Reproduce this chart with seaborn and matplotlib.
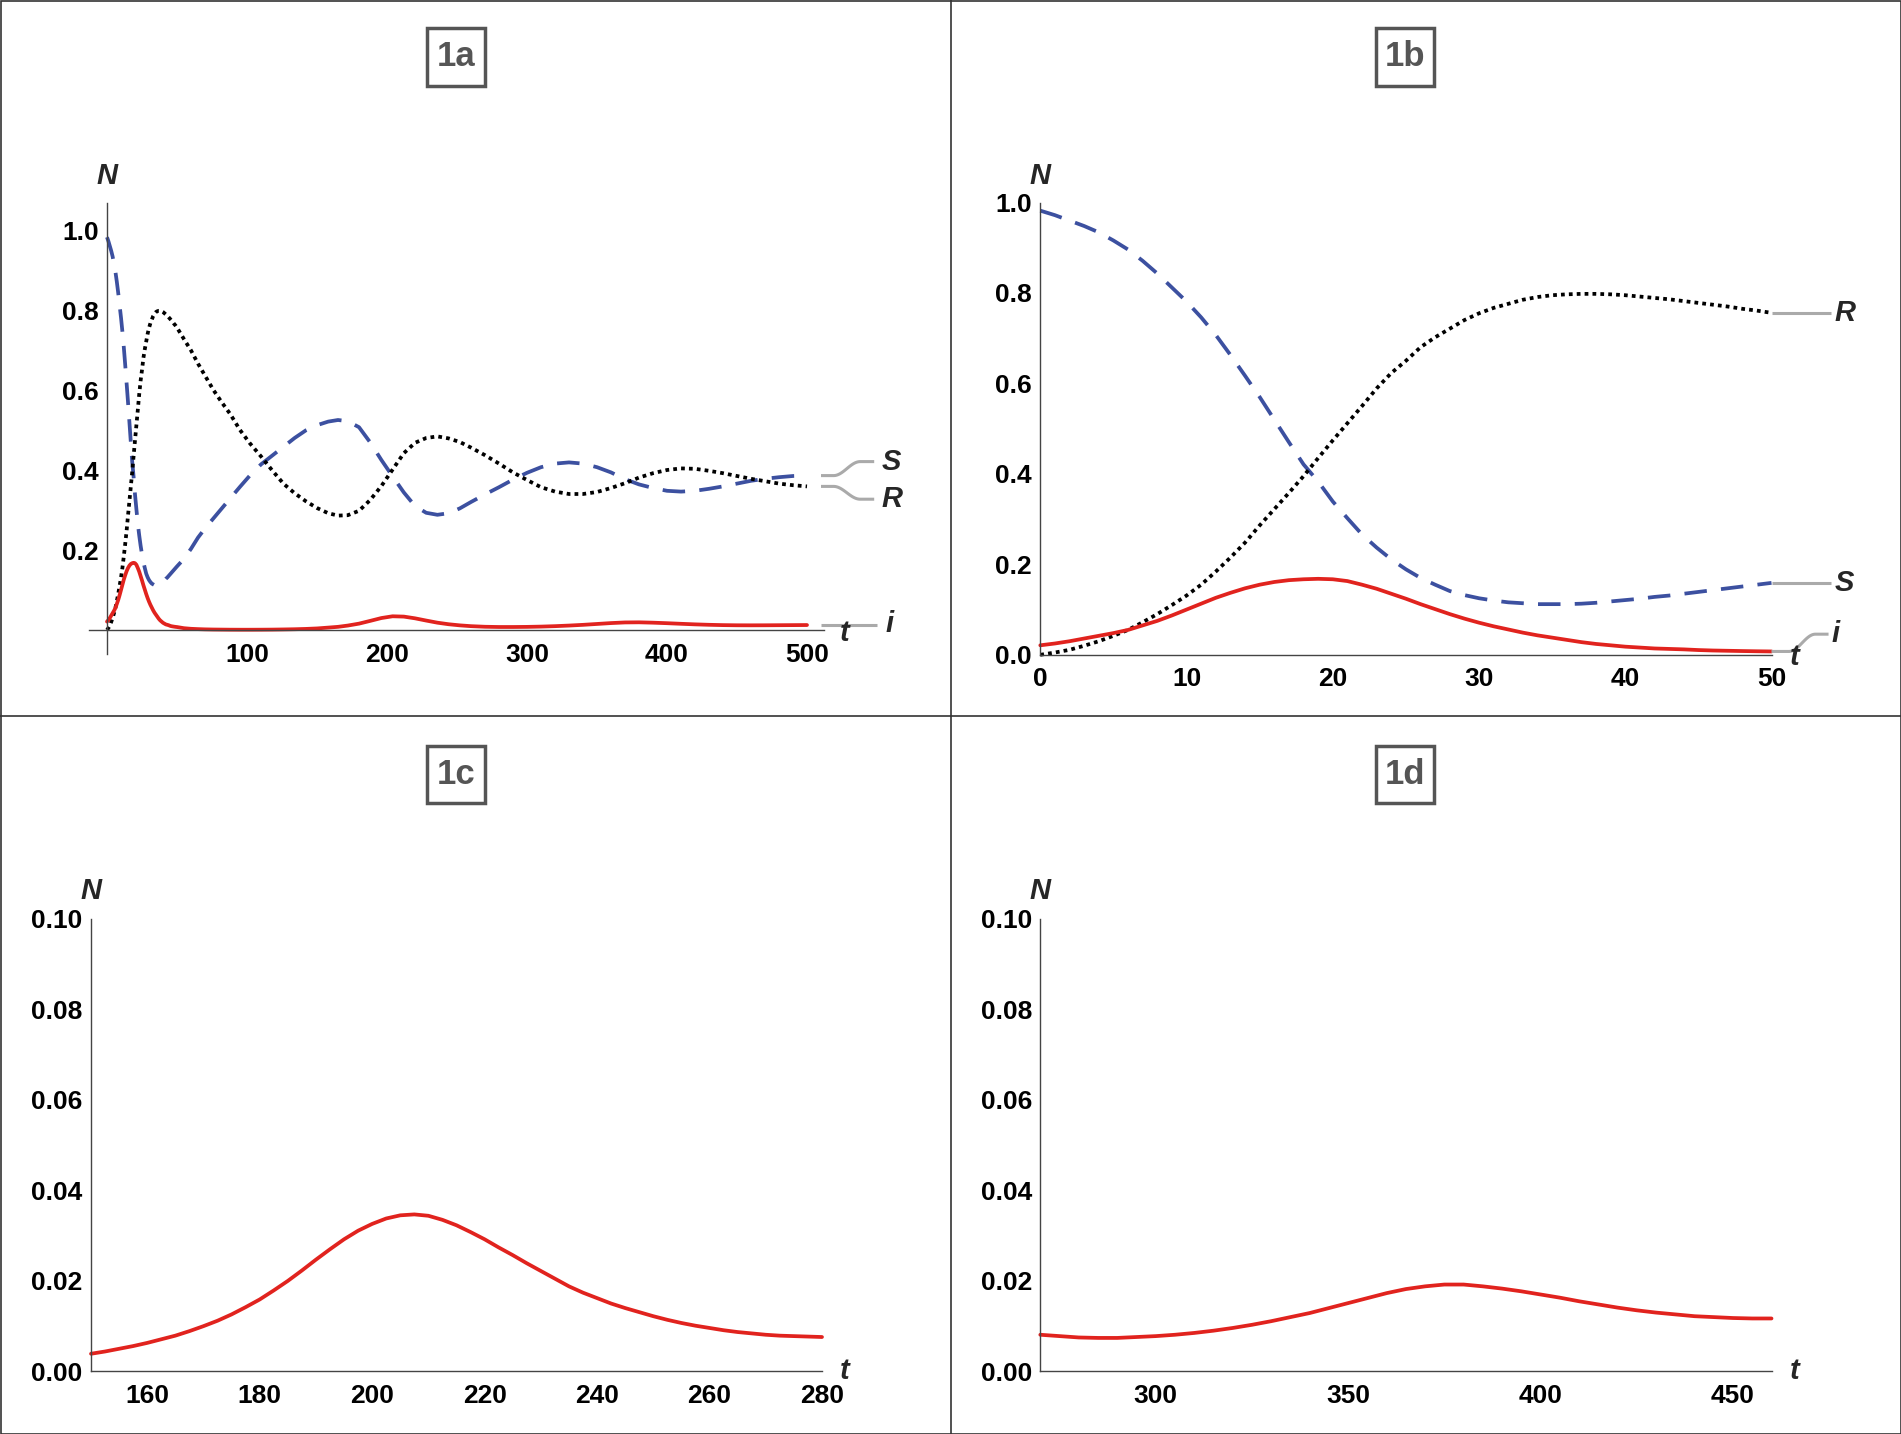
import numpy as np
import seaborn as sns
import matplotlib.pyplot as plt
from matplotlib.patches import Rectangle
from matplotlib.lines import Line2D
from matplotlib.ticker import FixedLocator, MultipleLocator, FormatStrFormatter

# ---- values ----
# panel 1b (t = 0..50), also the first part of panel 1a
t_early = list(range(0, 51))
s_early = [0.982, 0.972, 0.960, 0.948, 0.934, 0.916, 0.896, 0.871, 0.843, 0.812,
           0.781, 0.746, 0.707, 0.663, 0.617, 0.570, 0.520, 0.470, 0.421, 0.383,
           0.339, 0.302, 0.266, 0.237, 0.211, 0.189, 0.170, 0.155, 0.141, 0.132,
           0.125, 0.120, 0.116, 0.114, 0.112, 0.112, 0.112, 0.113, 0.115, 0.118,
           0.121, 0.124, 0.128, 0.131, 0.135, 0.139, 0.143, 0.147, 0.151, 0.155,
           0.159]
i_early = [0.021, 0.025, 0.030, 0.036, 0.042, 0.048, 0.055, 0.065, 0.075, 0.087,
           0.100, 0.113, 0.126, 0.137, 0.147, 0.155, 0.161, 0.165, 0.167, 0.168,
           0.167, 0.163, 0.155, 0.146, 0.135, 0.124, 0.112, 0.101, 0.090, 0.080,
           0.071, 0.063, 0.056, 0.049, 0.043, 0.038, 0.033, 0.028, 0.024, 0.021,
           0.018, 0.016, 0.014, 0.013, 0.012, 0.0105, 0.0095, 0.0089, 0.0083, 0.0078,
           0.0074]
r_early = [0.000, 0.005, 0.011, 0.020, 0.030, 0.042, 0.055, 0.072, 0.090, 0.110,
           0.131, 0.155, 0.184, 0.215, 0.248, 0.286, 0.322, 0.358, 0.395, 0.435,
           0.474, 0.512, 0.550, 0.589, 0.623, 0.650, 0.680, 0.702, 0.721, 0.740,
           0.755, 0.767, 0.776, 0.785, 0.791, 0.795, 0.797, 0.798, 0.798, 0.797,
           0.795, 0.792, 0.789, 0.786, 0.782, 0.778, 0.774, 0.770, 0.765, 0.761,
           0.756]

# panel 1a, t > 50
t_late = [55, 60, 65, 70, 76, 82, 88, 95, 102, 110, 118, 126, 134, 142, 150, 158,
          165, 172, 180, 188, 196, 204, 212, 220, 228, 236, 244, 252, 260, 270, 280,
          290, 300, 310, 320, 330, 340, 350, 360, 370, 380, 390, 400, 410, 420, 430,
          440, 450, 460, 470, 480, 490, 500]
s_late = [0.178, 0.203, 0.231, 0.254, 0.279, 0.304, 0.329, 0.358, 0.386, 0.414,
          0.436, 0.458, 0.480, 0.499, 0.512, 0.521, 0.525, 0.522, 0.507, 0.469,
          0.425, 0.384, 0.344, 0.310, 0.293, 0.288, 0.292, 0.304, 0.320, 0.339,
          0.357, 0.376, 0.393, 0.407, 0.416, 0.419, 0.416, 0.407, 0.394, 0.377,
          0.364, 0.355, 0.348, 0.346, 0.348, 0.353, 0.359, 0.366, 0.373, 0.378,
          0.382, 0.385, 0.386]
i_late = [0.0045, 0.0030, 0.0022, 0.0016, 0.0012, 0.0010, 0.0008, 0.0007, 0.0007,
          0.0008, 0.0010, 0.0014, 0.0019, 0.0027, 0.0039, 0.0060, 0.0079, 0.0111,
          0.0159, 0.0228, 0.0299, 0.0343, 0.0335, 0.0292, 0.0236, 0.0183, 0.0144,
          0.0116, 0.0096, 0.0081, 0.0075, 0.0075, 0.0078, 0.0085, 0.0096, 0.0111,
          0.0129, 0.0151, 0.0173, 0.0189, 0.0192, 0.0183, 0.0170, 0.0155, 0.0141,
          0.0130, 0.0122, 0.0118, 0.0117, 0.0118, 0.0120, 0.0122, 0.0124]
r_late = [0.727, 0.699, 0.666, 0.636, 0.600, 0.569, 0.540, 0.500, 0.467, 0.434,
          0.399, 0.366, 0.342, 0.322, 0.305, 0.292, 0.286, 0.287, 0.298, 0.325,
          0.360, 0.401, 0.442, 0.468, 0.480, 0.484, 0.479, 0.470, 0.456, 0.437,
          0.416, 0.394, 0.375, 0.357, 0.346, 0.340, 0.340, 0.345, 0.355, 0.367,
          0.381, 0.392, 0.400, 0.404, 0.403, 0.398, 0.392, 0.385, 0.378, 0.372,
          0.366, 0.362, 0.359]

# panel 1c: second wave of I
t_c = [150, 152.5, 155, 157.5, 160, 162.5, 165, 167.5, 170, 172.5, 175, 177.5,
       180, 182.5, 185, 187.5, 190, 192.5, 195, 197.5, 200, 202.5, 205, 207.5,
       210, 212.5, 215, 217.5, 220, 222.5, 225, 227.5, 230, 232.5, 235, 237.5,
       240, 242.5, 245, 247.5, 250, 252.5, 255, 257.5, 260, 262.5, 265, 267.5,
       270, 272.5, 275, 277.5, 280]
i_c = [0.0039, 0.0044, 0.0050, 0.0056, 0.0063, 0.0071, 0.0079, 0.0089, 0.0100,
       0.0112, 0.0126, 0.0142, 0.0159, 0.0179, 0.0200, 0.0223, 0.0247, 0.0270,
       0.0292, 0.0311, 0.0326, 0.0338, 0.0345, 0.0347, 0.0344, 0.0335, 0.0323,
       0.0308, 0.0292, 0.0274, 0.0257, 0.0239, 0.0222, 0.0205, 0.0188, 0.0174,
       0.0162, 0.0150, 0.0140, 0.0131, 0.0122, 0.0114, 0.0107, 0.0101, 0.0096,
       0.0091, 0.0087, 0.0084, 0.0081, 0.0079, 0.0078, 0.0077, 0.0076]

# panel 1d: third wave of I
t_d = [270, 275, 280, 285, 290, 295, 300, 305, 310, 315, 320, 325, 330, 335, 340,
       345, 350, 355, 360, 365, 370, 375, 380, 385, 390, 395, 400, 405, 410, 415,
       420, 425, 430, 435, 440, 445, 450, 455, 460]
i_d = [0.0081, 0.0078, 0.0075, 0.0074, 0.0074, 0.0076, 0.0078, 0.0081, 0.0085,
       0.0090, 0.0096, 0.0103, 0.0111, 0.0120, 0.0129, 0.0140, 0.0151, 0.0162,
       0.0173, 0.0182, 0.0188, 0.0192, 0.0192, 0.0188, 0.0183, 0.0177, 0.0170,
       0.0163, 0.0155, 0.0148, 0.0141, 0.0135, 0.0130, 0.0126, 0.0122, 0.0120,
       0.0118, 0.0117, 0.0117]

t_a = t_early + t_late
s_a = s_early + s_late
i_a = i_early + i_late
r_a = r_early + r_late

BLUE = '#3c50a0'
RED = '#e1231e'
GREY = '#aaaaaa'
LW = 2.7

sns.set_style('white')
plt.rcParams['font.family'] = ['Liberation Sans', 'DejaVu Sans']
plt.rcParams['font.weight'] = 'bold'

W, H = 1901, 1434
fig = plt.figure(figsize=(W / 100, H / 100), dpi=100)


def px_axes(x0, x1, y_top, y_bot):
    return fig.add_axes([x0 / W, 1 - y_bot / H, (x1 - x0) / W, (y_bot - y_top) / H])


def style_axes(ax, origin=False):
    ax.spines['top'].set_visible(False)
    ax.spines['right'].set_visible(False)
    for side in ['left', 'bottom']:
        ax.spines[side].set_color('#444444')
        ax.spines[side].set_linewidth(1.0)
    if origin:
        ax.spines['left'].set_position(('data', 0))
        ax.spines['bottom'].set_position(('data', 0))
    ax.tick_params(which='both', direction='in', color='#444444', width=1.0,
                   labelsize=19, labelcolor='black')
    ax.tick_params(which='major', length=8)
    ax.tick_params(which='minor', length=4.5)
    ax.tick_params(axis='y', which='major', pad=6)
    ax.tick_params(axis='x', which='major', pad=9)
    ax.set_xlabel('')
    ax.set_ylabel('')
    ax.patch.set_alpha(0)


def draw_s(ax, t, v):
    sns.lineplot(x=t, y=v, ax=ax, color=BLUE, lw=LW, linestyle=(0, (6, 3.8)),
                 estimator=None, sort=False, clip_on=False)


def draw_r(ax, t, v):
    sns.lineplot(x=t, y=v, ax=ax, color='black', lw=LW, linestyle=(0, (1.0, 1.1)),
                 estimator=None, sort=False, clip_on=False, dash_capstyle='butt')


def draw_i(ax, t, v):
    sns.lineplot(x=t, y=v, ax=ax, color=RED, lw=LW, estimator=None, sort=False,
                 clip_on=False)


def callout(ax, x0, x1, x2, x3, y0, y1):
    # flat, eased bend, flat
    u = np.linspace(0, 1, 25)
    xs = np.concatenate([[x0], x1 + (x2 - x1) * u, [x3]])
    ys = np.concatenate([[y0], y0 + (y1 - y0) * (1 - np.cos(np.pi * u)) / 2, [y1]])
    ax.plot(xs, ys, color=GREY, lw=2.2, clip_on=False, solid_capstyle='butt')


def letter(ax, x, y, s, ha='left'):
    ax.text(x, y, s, ha=ha, va='center', fontsize=21, fontweight='bold',
            fontstyle='italic', clip_on=False)


# ---- 1a ----
ax = px_axes(88.8, 823.8, 203.2, 654.0)
draw_s(ax, t_a, s_a)
draw_r(ax, t_a, r_a)
draw_i(ax, t_a, i_a)
ax.set_xlim(-13, 512)
ax.set_ylim(-0.06, 1.067)
style_axes(ax, origin=True)
ax.xaxis.set_major_locator(FixedLocator([100, 200, 300, 400, 500]))
ax.xaxis.set_minor_locator(FixedLocator(np.arange(20, 501, 20)))
ax.yaxis.set_major_locator(FixedLocator([0.2, 0.4, 0.6, 0.8, 1.0]))
ax.yaxis.set_minor_locator(FixedLocator(np.arange(0.05, 1.06, 0.05)))
ax.xaxis.set_major_formatter(FormatStrFormatter('%d'))
ax.yaxis.set_major_formatter(FormatStrFormatter('%.1f'))
callout(ax, 510, 519, 538, 548, s_a[-1], 0.421)
callout(ax, 510, 519, 538, 548, r_a[-1], 0.327)
callout(ax, 510, 530, 531, 550, i_a[-1], i_a[-1])
letter(ax, 553, 0.421, 'S')
letter(ax, 553, 0.327, 'R')
letter(ax, 556, 0.014, 'i')
letter(ax, 527, -0.008, 't', ha='center')
letter(ax, 0, 1.136, 'N', ha='center')

# ---- 1b ----
ax = px_axes(1040.3, 1771.5, 202.5, 654.8)
draw_s(ax, t_early, s_early)
draw_r(ax, t_early, r_early)
draw_i(ax, t_early, i_early)
ax.set_xlim(0, 50)
ax.set_ylim(0, 1)
style_axes(ax)
ax.xaxis.set_major_locator(MultipleLocator(10))
ax.xaxis.set_minor_locator(MultipleLocator(2))
ax.yaxis.set_major_locator(MultipleLocator(0.2))
ax.yaxis.set_minor_locator(MultipleLocator(0.05))
ax.xaxis.set_major_formatter(FormatStrFormatter('%d'))
ax.yaxis.set_major_formatter(FormatStrFormatter('%.1f'))
callout(ax, 50, 51, 52, 54.06, r_early[-1], r_early[-1])
callout(ax, 50, 51, 52, 54.06, s_early[-1], s_early[-1])
callout(ax, 50, 51.2, 53.0, 53.9, i_early[-1], 0.0456)
letter(ax, 54.3, r_early[-1], 'R')
letter(ax, 54.3, s_early[-1], 'S')
letter(ax, 54.1, 0.047, 'i')
letter(ax, 51.6, -0.004, 't', ha='center')
letter(ax, 0, 1.059, 'N', ha='center')

# ---- 1c ----
ax = px_axes(91.0, 822.0, 919.0, 1371.4)
draw_i(ax, t_c, i_c)
ax.set_xlim(150, 280)
ax.set_ylim(0, 0.1)
style_axes(ax)
ax.xaxis.set_major_locator(MultipleLocator(20))
ax.xaxis.set_minor_locator(MultipleLocator(5))
ax.yaxis.set_major_locator(MultipleLocator(0.02))
ax.yaxis.set_minor_locator(MultipleLocator(0.005))
ax.xaxis.set_major_formatter(FormatStrFormatter('%d'))
ax.yaxis.set_major_formatter(FormatStrFormatter('%.2f'))
letter(ax, 284, 0.0, 't', ha='center')
letter(ax, 150, 0.1062, 'N', ha='center')

# ---- 1d ----
ax = px_axes(1040.3, 1771.5, 919.0, 1371.4)
draw_i(ax, t_d, i_d)
ax.set_xlim(270, 460)
ax.set_ylim(0, 0.1)
style_axes(ax)
ax.xaxis.set_major_locator(MultipleLocator(50))
ax.xaxis.set_minor_locator(MultipleLocator(10))
ax.yaxis.set_major_locator(MultipleLocator(0.02))
ax.yaxis.set_minor_locator(MultipleLocator(0.005))
ax.xaxis.set_major_formatter(FormatStrFormatter('%d'))
ax.yaxis.set_major_formatter(FormatStrFormatter('%.2f'))
letter(ax, 466, 0.0, 't', ha='center')
letter(ax, 270, 0.1062, 'N', ha='center')

# ---- panel tags and frame ----
for tag, cx, cy in [('1a', 456, 57), ('1b', 1405, 57), ('1c', 456, 774), ('1d', 1405, 774)]:
    fig.patches.append(Rectangle(((cx - 29) / W, 1 - (cy + 28.5) / H), 58 / W, 57 / H,
                                 transform=fig.transFigure, fill=False,
                                 edgecolor='#555555', lw=2.5))
    fig.text(cx / W, 1 - cy / H, tag, ha='center', va='center', fontsize=25,
             fontweight='bold', color='#555555')

fig.lines.append(Line2D([950.5 / W, 950.5 / W], [0, 1], transform=fig.transFigure,
                        color='#333333', lw=1.2))
fig.lines.append(Line2D([0, 1], [1 - 716.5 / H, 1 - 716.5 / H], transform=fig.transFigure,
                        color='#333333', lw=1.2))
fig.patches.append(Rectangle((0.5 / W, 0.5 / H), 1 - 1.0 / W, 1 - 1.0 / H,
                             transform=fig.transFigure, fill=False,
                             edgecolor='#333333', lw=1.2))

fig.savefig('out.png', dpi=100)
